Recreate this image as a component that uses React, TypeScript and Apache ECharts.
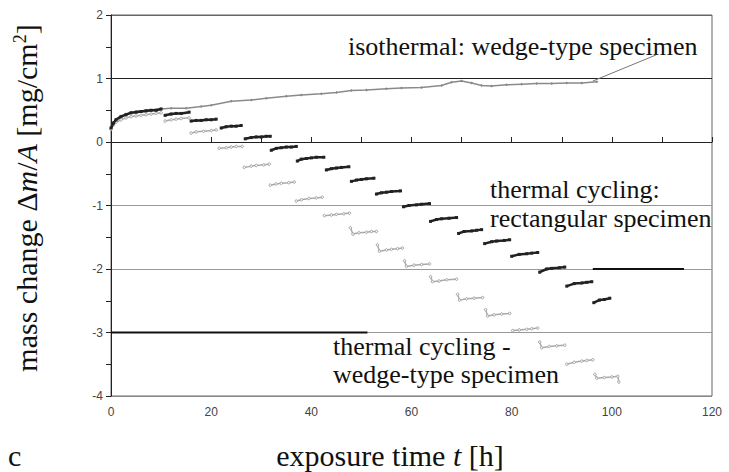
import React, { useEffect, useRef } from "react";
import * as echarts from "echarts";

// axis ticks
const xTickValues = [0, 20, 40, 60, 80, 100, 120];
const yTickValues = [-4, -3, -2, -1, 0, 1, 2];

// isothermal: wedge-type specimen [t (h), dm/A (mg/cm2)]
const isothermal: number[][] = [
  [0, 0.22], [0.5, 0.3], [1, 0.36], [2, 0.41], [3, 0.44], [5, 0.48], [7, 0.5], [10, 0.52],
  [12, 0.53], [15, 0.53], [18, 0.56], [20, 0.58], [24, 0.64], [28, 0.66], [31, 0.69],
  [35, 0.72], [38, 0.74], [42, 0.76], [45, 0.78], [48, 0.81], [51, 0.82], [55, 0.84],
  [58, 0.85], [62, 0.86], [66, 0.89], [68, 0.94], [70, 0.96], [72, 0.93], [74, 0.89],
  [76, 0.88], [79, 0.9], [82, 0.91], [85, 0.92], [88, 0.92], [91, 0.93], [94, 0.93], [97, 0.95],
];

// thermal cycling: rectangular specimen (segments)
const rectSegments: number[][][] = [
  [[0, 0.22], [0.5, 0.3], [1, 0.35], [2, 0.4], [3, 0.43], [4, 0.46], [5, 0.47], [6, 0.48], [7, 0.49], [8, 0.5], [9, 0.5], [10, 0.52]],
  [[10.8, 0.42], [12, 0.44], [13, 0.45], [14, 0.45], [15.6, 0.47]],
  [[16, 0.33], [17, 0.34], [18, 0.34], [19, 0.35], [20, 0.35], [21, 0.36]],
  [[22, 0.22], [23, 0.24], [24, 0.25], [25, 0.25], [26, 0.26]],
  [[26.8, 0.05], [28, 0.07], [29, 0.08], [30, 0.08], [31, 0.09], [31.8, 0.09]],
  [[32, -0.13], [33, -0.1], [34, -0.09], [35, -0.08], [36, -0.08], [37, -0.07]],
  [[37.2, -0.3], [38, -0.27], [39, -0.26], [40, -0.25], [41, -0.24], [42.5, -0.24]],
  [[43, -0.44], [44, -0.42], [45, -0.41], [46, -0.4], [47.5, -0.39]],
  [[48, -0.62], [49, -0.6], [50, -0.59], [51, -0.58], [52.5, -0.57]],
  [[53, -0.82], [54, -0.8], [55, -0.79], [56, -0.78], [57.8, -0.77]],
  [[58.4, -1.02], [59.5, -1.0], [61, -0.99], [62, -0.98], [63.6, -0.97]],
  [[63.8, -1.25], [65, -1.22], [66, -1.21], [67.5, -1.2], [69, -1.19]],
  [[69.4, -1.44], [70.5, -1.41], [72, -1.4], [73, -1.39], [74, -1.38]],
  [[74.6, -1.6], [76, -1.57], [77, -1.56], [78.5, -1.55], [79.6, -1.54]],
  [[80, -1.8], [81.5, -1.77], [83, -1.76], [84, -1.75], [85.2, -1.74]],
  [[85.6, -2.05], [87, -2.0], [88, -1.99], [89.5, -1.98], [90.6, -1.97]],
  [[91, -2.27], [92.5, -2.23], [94, -2.22], [95, -2.21], [96, -2.2]],
  [[96.4, -2.53], [97.5, -2.49], [98.5, -2.48], [99.6, -2.46]],
];

// thermal cycling - wedge-type specimen (segments)
const wedgeSegments: number[][][] = [
  [[0, 0.2], [0.5, 0.27], [1, 0.31], [2, 0.35], [3, 0.38], [4, 0.4], [5, 0.41], [6, 0.42], [7, 0.43], [8, 0.44], [9, 0.45], [10, 0.46]],
  [[10.8, 0.33], [12, 0.35], [13, 0.36], [14, 0.37], [15.6, 0.38]],
  [[16, 0.14], [17, 0.16], [18.5, 0.17], [20, 0.18], [21, 0.19]],
  [[21.6, -0.1], [23, -0.09], [24, -0.08], [25, -0.07], [26.2, -0.07]],
  [[26.6, -0.4], [28, -0.38], [29, -0.37], [30.5, -0.36], [31.6, -0.35]],
  [[31.8, -0.68], [33, -0.66], [34, -0.65], [35.5, -0.64], [36.6, -0.63]],
  [[37, -0.93], [38, -0.91], [39.5, -0.89], [41, -0.88], [42.2, -0.87]],
  [[42.6, -1.16], [44, -1.15], [45, -1.14], [46.5, -1.13], [47.6, -1.12]],
  [[47.8, -1.35], [48.3, -1.45], [49.5, -1.43], [51, -1.42], [52, -1.41], [53, -1.41]],
  [[53.2, -1.62], [53.6, -1.72], [55, -1.7], [56, -1.69], [57.2, -1.68], [58.2, -1.67]],
  [[58.6, -1.87], [59, -1.96], [60.5, -1.94], [62, -1.93], [63.6, -1.92]],
  [[63.8, -2.12], [64.2, -2.2], [65.5, -2.19], [67, -2.17], [69, -2.16]],
  [[69.2, -2.4], [69.6, -2.49], [71, -2.47], [72.5, -2.46], [74.2, -2.45]],
  [[74.8, -2.64], [75.2, -2.74], [76.5, -2.72], [78, -2.71], [79.6, -2.7]],
  [[80.2, -2.97], [81.5, -2.96], [83, -2.95], [84, -2.94], [85.2, -2.93]],
  [[85.6, -3.15], [86, -3.24], [87.5, -3.22], [89, -3.21], [90.6, -3.2]],
  [[91, -3.5], [92.5, -3.47], [94, -3.45], [95, -3.44], [96.2, -3.43]],
  [[96.6, -3.66], [97, -3.72], [98.5, -3.71], [100, -3.7], [101.2, -3.69], [101.4, -3.78]],
];

// legend key lines and pointer
const rectKeyLine = [[96.2, -2], [114.4, -2]];
const wedgeKeyLine = [[0, -3], [51.2, -3]];
const isoPointer = [[96.2, 0.96], [108.8, 1.37]];

const joinSegments = (segs: number[][][]) => {
  const out: any[] = [];
  segs.forEach((s, i) => {
    if (i > 0) out.push("-");
    s.forEach((p) => out.push(p));
  });
  return out;
};

const serif = "Liberation Serif";
const sans = "Liberation Sans";

const annot = (text: string, left: number, y: number) => ({
  type: "text",
  x: left,
  y,
  style: { text, fontFamily: serif, fontSize: 26, fill: "#111", verticalAlign: "middle" },
});

export default function App() {
  const ref = useRef<HTMLDivElement>(null);
  useEffect(() => {
    document.body.style.margin = "0";
    if (!ref.current) return;
    const chart = echarts.init(ref.current, undefined, { renderer: "svg" });
    const gridColors = ["#888", "#999", "#999", "#999", "#222", "#222", "#666"];
    chart.setOption({
      animation: false,
      backgroundColor: "#fff",
      grid: { left: 111, right: 17, top: 15, bottom: 76, show: true, borderColor: "#666", borderWidth: 1 },
      xAxis: {
        type: "value",
        min: xTickValues[0],
        max: xTickValues[xTickValues.length - 1],
        interval: 20,
        axisLine: { show: true, lineStyle: { color: "#222", width: 1 } },
        axisTick: { show: true, inside: true, length: 5, lineStyle: { color: "#222" } },
        minorTick: { show: true, splitNumber: 2, length: 5, lineStyle: { color: "#222" } },
        splitLine: { show: false },
        axisLabel: { color: "#444", fontFamily: sans, fontSize: 12, margin: 10 },
      },
      yAxis: {
        type: "value",
        min: yTickValues[0],
        max: yTickValues[yTickValues.length - 1],
        interval: 1,
        axisLine: { show: true, lineStyle: { color: "#222", width: 1 } },
        axisTick: { show: true, inside: false, length: 5, lineStyle: { color: "#222" } },
        minorTick: { show: true, splitNumber: 2, length: 5, lineStyle: { color: "#222" } },
        splitLine: { show: true, lineStyle: { color: gridColors, width: 1 } },
        axisLabel: { color: "#444", fontFamily: sans, fontSize: 12, margin: 8 },
      },
      series: [
        {
          type: "line",
          data: isothermal,
          lineStyle: { color: "#8a8a8a", width: 1.5 },
          itemStyle: { color: "#8a8a8a" },
          symbol: "diamond",
          symbolSize: 3,
          z: 3,
        },
        {
          type: "line",
          data: isoPointer,
          lineStyle: { color: "#777", width: 1 },
          symbol: "none",
          z: 3,
        },
        {
          type: "line",
          data: joinSegments(wedgeSegments),
          connectNulls: false,
          lineStyle: { color: "#aaa", width: 1.5 },
          itemStyle: { color: "#fff", borderColor: "#a0a0a0", borderWidth: 1 },
          symbol: "circle",
          symbolSize: 2.5,
          z: 4,
        },
        {
          type: "line",
          data: joinSegments(rectSegments),
          connectNulls: false,
          lineStyle: { color: "#222", width: 2.5 },
          itemStyle: { color: "#222" },
          symbol: "rect",
          symbolSize: 3,
          z: 5,
        },
        {
          type: "line",
          data: wedgeKeyLine,
          lineStyle: { color: "#111", width: 2 },
          symbol: "none",
          z: 6,
        },
        {
          type: "line",
          data: rectKeyLine,
          lineStyle: { color: "#111", width: 2 },
          symbol: "none",
          z: 6,
        },
      ],
      graphic: [
        annot("isothermal: wedge-type specimen", 348, 46),
        annot("thermal cycling:", 490, 189),
        annot("rectangular specimen", 490, 218),
        annot("thermal cycling -", 333, 346),
        annot("wedge-type specimen", 333, 374),
        {
          type: "text",
          x: 390,
          y: 455,
          style: {
            text: "exposure time {i|t} [h]",
            fontFamily: serif,
            fontSize: 30,
            fill: "#111",
            align: "center",
            verticalAlign: "middle",
            rich: { i: { fontStyle: "italic", fontFamily: serif, fontSize: 30 } },
          },
        },
        {
          type: "text",
          x: 26,
          y: 198,
          rotation: Math.PI / 2,
          style: {
            text: "mass change Δ{i|m}/{i|A} [mg/cm{s|2}]",
            fontFamily: serif,
            fontSize: 30,
            fill: "#111",
            align: "center",
            verticalAlign: "middle",
            rich: {
              i: { fontStyle: "italic", fontFamily: serif, fontSize: 30 },
              s: { fontFamily: serif, fontSize: 18, verticalAlign: "top", padding: [0, 0, 12, 0] },
            },
          },
        },
        {
          type: "text",
          x: 8,
          y: 455,
          style: { text: "c", fontFamily: serif, fontSize: 30, fill: "#111", verticalAlign: "middle" },
        },
      ],
    });
    return () => chart.dispose();
  }, []);
  return <div ref={ref} style={{ width: 729, height: 472 }} />;
}
